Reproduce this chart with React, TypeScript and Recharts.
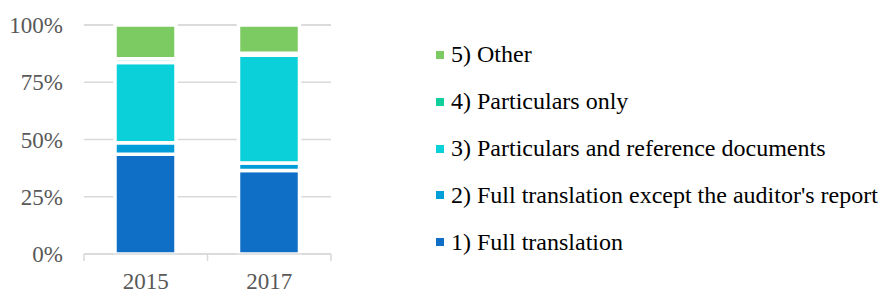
import React from "react";
import { BarChart, Bar, XAxis, YAxis, CartesianGrid, Legend } from "recharts";

const years = ["2015", "2017"];
const fullTranslation = [43.6, 36.5];
const fullExceptAuditor = [5.0, 3.2];
const particularsAndRefs = [35.0, 47.1];
const particularsOnly = [1.7, 0.9];
const other = [14.7, 12.3];
const yTicks = [0, 25, 50, 75, 100];

const seriesNames = [
  "1) Full translation",
  "2) Full translation except the auditor's report",
  "3) Particulars and reference documents",
  "4) Particulars only",
  "5) Other",
];
const seriesColors = ["#0F6FC6", "#009DD9", "#0BD0D9", "#10CF9B", "#7CCA62"];
const seriesKeys = ["s1", "s2", "s3", "s4", "s5"];

const data = years.map((y, i) => ({
  year: y,
  s1: fullTranslation[i],
  s2: fullExceptAuditor[i],
  s3: particularsAndRefs[i],
  s4: particularsOnly[i],
  s5: other[i],
}));

const FONT = '"Liberation Serif", "Times New Roman", serif';

const XTick = (props: any) => {
  const { x, y, payload, index, visibleTicksCount, width } = props;
  const half =
    payload && typeof payload.offset === "number" && payload.offset > 0
      ? payload.offset
      : width / (visibleTicksCount || 2) / 2;
  const isLast = index === (visibleTicksCount || 2) - 1;
  return (
    <g>
      <line x1={x - half} x2={x - half} y1={y} y2={y + 7} stroke="#D9D9D9" strokeWidth={1.5} />
      {isLast && (
        <line x1={x + half} x2={x + half} y1={y} y2={y + 7} stroke="#D9D9D9" strokeWidth={1.5} />
      )}
      <text x={x} y={y + 35} textAnchor="middle" fill="#595959" fontSize={23} fontFamily={FONT}>
        {payload.value}
      </text>
    </g>
  );
};

const renderLegend = (props: any) => {
  const payload = [...(props.payload || [])].reverse();
  return (
    <div style={{ fontFamily: FONT, fontSize: 24, color: "#000" }}>
      {payload.map((p: any) => (
        <div
          key={p.value}
          style={{ height: 46.8, display: "flex", alignItems: "center", whiteSpace: "nowrap" }}
        >
          <span
            style={{
              display: "inline-block",
              width: 8,
              height: 8,
              background: p.color,
              marginRight: 7,
            }}
          />
          <span>{p.value}</span>
        </div>
      ))}
    </div>
  );
};

export default function App() {
  return (
    <div style={{ position: "absolute", left: 0, top: 0, width: 879, height: 293, background: "#fff" }}>
      <BarChart
        width={879}
        height={293}
        data={data}
        margin={{ top: 25, right: 548, bottom: 0, left: 0 }}
        barSize={61}
      >
        <CartesianGrid vertical={false} stroke="#D9D9D9" strokeWidth={1.5} />
        <XAxis
          dataKey="year"
          axisLine={{ stroke: "#D9D9D9", strokeWidth: 1.5 }}
          tickLine={false}
          tickSize={0}
          tickMargin={0}
          height={39}
          tick={<XTick />}
          interval={0}
        />
        <YAxis
          width={84}
          domain={[0, 100]}
          ticks={yTicks}
          tickFormatter={(v: number) => `${v}%`}
          axisLine={false}
          tickLine={false}
          tickSize={0}
          tickMargin={21}
          tick={{ fill: "#595959", fontSize: 23, fontFamily: FONT }}
          interval={0}
        />
        <Legend
          layout="horizontal"
          align="center"
          verticalAlign="middle"
          content={renderLegend}
          wrapperStyle={{ left: 436, top: 31.6, width: 443, height: 240 }}
        />
        {seriesKeys.map((k, i) => (
          <Bar
            key={k}
            dataKey={k}
            name={seriesNames[i]}
            stackId="a"
            fill={seriesColors[i]}
            stroke="#fff"
            strokeWidth={3.5}
            isAnimationActive={false}
          />
        ))}
      </BarChart>
    </div>
  );
}
